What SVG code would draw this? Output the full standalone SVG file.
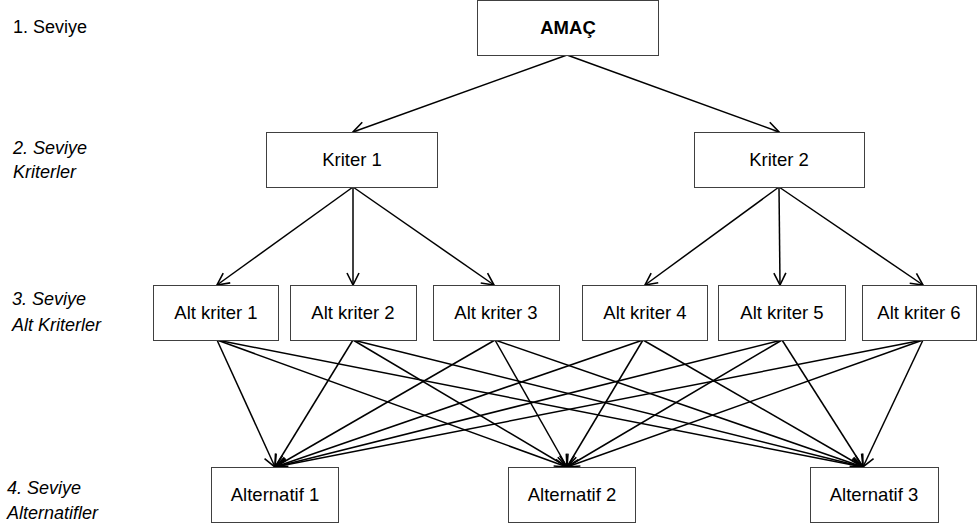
<svg xmlns="http://www.w3.org/2000/svg" width="979" height="527" viewBox="0 0 979 527">
<defs>
<marker id="arr" markerUnits="userSpaceOnUse" markerWidth="16" markerHeight="16" viewBox="-13 -8 15 16" refX="0" refY="0" orient="auto">
<path d="M-12,-6 L0,0 L-12,6" fill="none" stroke="#000" stroke-width="1.6"/>
</marker>
<style>
.box{fill:#fff;stroke:#404040;stroke-width:1}
.t{font-family:"Liberation Sans",Arial,sans-serif;font-size:18.5px;fill:#000;text-anchor:middle}
.lab{font-family:"Liberation Sans",Arial,sans-serif;font-size:18px;fill:#000}
.it{font-style:italic}
.c line{stroke:#000;stroke-width:1.5;marker-end:url(#arr)}
</style>
</defs>
<rect width="979" height="527" fill="#fff"/>
<g id="levels">
<text class="lab" x="13" y="33">1. Seviye</text>
<text class="lab it" x="13" y="154">2. Seviye</text>
<text class="lab it" x="13" y="178">Kriterler</text>
<text class="lab it" x="12" y="305">3. Seviye</text>
<text class="lab it" x="12" y="331">Alt Kriterler</text>
<text class="lab it" x="7" y="494">4. Seviye</text>
<text class="lab it" x="7" y="519">Alternatifler</text>
</g>
<g class="c" id="connectors">
<line x1="567" y1="55" x2="353" y2="132"/>
<line x1="567" y1="55" x2="779" y2="132"/>
<line x1="353" y1="187" x2="217" y2="285"/>
<line x1="353" y1="187" x2="353" y2="285"/>
<line x1="353" y1="187" x2="494" y2="285"/>
<line x1="779" y1="187" x2="645" y2="285"/>
<line x1="779" y1="187" x2="780" y2="285"/>
<line x1="779" y1="187" x2="923" y2="285"/>
<line x1="217" y1="340" x2="275" y2="467"/>
<line x1="217" y1="340" x2="567" y2="467"/>
<line x1="217" y1="340" x2="863" y2="467"/>
<line x1="353" y1="340" x2="275" y2="467"/>
<line x1="353" y1="340" x2="567" y2="467"/>
<line x1="353" y1="340" x2="863" y2="467"/>
<line x1="495" y1="340" x2="275" y2="467"/>
<line x1="495" y1="340" x2="567" y2="467"/>
<line x1="495" y1="340" x2="863" y2="467"/>
<line x1="643" y1="340" x2="275" y2="467"/>
<line x1="643" y1="340" x2="567" y2="467"/>
<line x1="643" y1="340" x2="863" y2="467"/>
<line x1="782" y1="340" x2="275" y2="467"/>
<line x1="782" y1="340" x2="567" y2="467"/>
<line x1="782" y1="340" x2="863" y2="467"/>
<line x1="923" y1="340" x2="275" y2="467"/>
<line x1="923" y1="340" x2="567" y2="467"/>
<line x1="923" y1="340" x2="863" y2="467"/>
</g>
<g id="amac"><rect class="box" x="477.5" y="0.5" width="181" height="55"/><text class="t" x="568" y="34" font-weight="bold">AMAÇ</text></g>
<g id="kriter1"><rect class="box" x="266.5" y="132.5" width="171" height="55"/><text class="t" x="352" y="166">Kriter 1</text></g>
<g id="kriter2"><rect class="box" x="694.5" y="132.5" width="170" height="55"/><text class="t" x="779" y="166">Kriter 2</text></g>
<g id="alt1"><rect class="box" x="153.5" y="285.5" width="125" height="55"/><text class="t" x="216" y="319">Alt kriter 1</text></g>
<g id="alt2"><rect class="box" x="290.5" y="285.5" width="126" height="55"/><text class="t" x="353" y="319">Alt kriter 2</text></g>
<g id="alt3"><rect class="box" x="433.5" y="285.5" width="126" height="55"/><text class="t" x="496" y="319">Alt kriter 3</text></g>
<g id="alt4"><rect class="box" x="582.5" y="285.5" width="125" height="55"/><text class="t" x="645" y="319">Alt kriter 4</text></g>
<g id="alt5"><rect class="box" x="718.5" y="285.5" width="127" height="55"/><text class="t" x="782" y="319">Alt kriter 5</text></g>
<g id="alt6"><rect class="box" x="862.5" y="285.5" width="114" height="55"/><text class="t" x="919" y="319">Alt kriter 6</text></g>
<g id="alternatif1"><rect class="box" x="211.5" y="467.5" width="127" height="55"/><text class="t" x="275" y="501">Alternatif 1</text></g>
<g id="alternatif2"><rect class="box" x="508.5" y="467.5" width="127" height="55"/><text class="t" x="572" y="501">Alternatif 2</text></g>
<g id="alternatif3"><rect class="box" x="810.5" y="467.5" width="128" height="55"/><text class="t" x="874" y="501">Alternatif 3</text></g>
</svg>
